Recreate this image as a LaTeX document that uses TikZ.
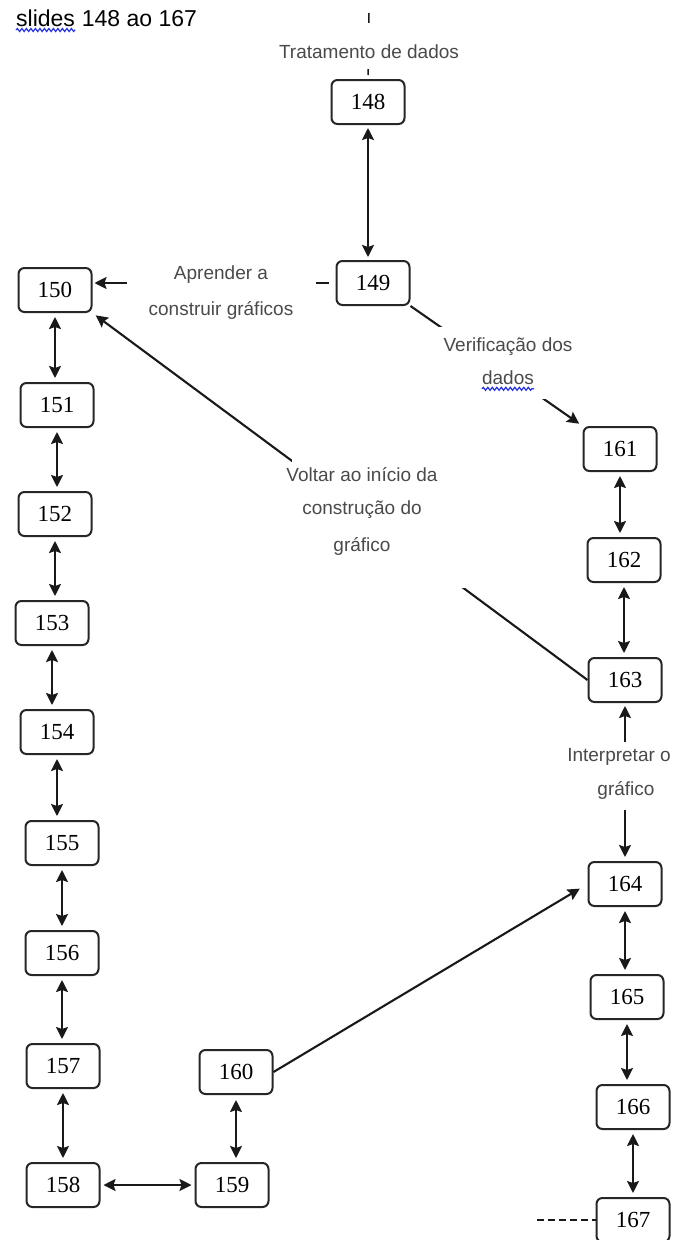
\documentclass[tikz,border=0pt]{standalone}
\usepackage{fontspec}
\setmainfont{Liberation Serif}
\newfontfamily\labfont{Liberation Sans}
\usetikzlibrary{arrows.meta,decorations.pathmorphing}
\definecolor{labgray}{HTML}{4A4A4A}
\definecolor{wavyblue}{HTML}{2430E0}
\begin{document}
\begin{tikzpicture}[x=1pt,y=-1pt,
  slide/.style={draw=black!85, line width=2pt, rounded corners=6pt,
    minimum width=73pt, minimum height=44pt, inner sep=0pt,
    font=\fontsize{23}{23}\selectfont},
  lab/.style={text=labgray, inner sep=0pt, font=\labfont\fontsize{19}{24}\selectfont},
  link/.style={line width=2.1pt, draw=black!90},
  tip/.style={-{Stealth[length=12pt,width=12pt,inset=2pt]}},
  both/.style={{Stealth[length=12pt,width=12pt,inset=2pt]}-{Stealth[length=12pt,width=12pt,inset=2pt]}},
  mask/.style={fill=white, draw=none},
  spell/.style={draw=wavyblue, line width=1.2pt, decorate,
    decoration={snake, amplitude=1.5pt, segment length=4.5pt}}
]
\useasboundingbox (0,0) rectangle (674,1240);

% ---- slide boxes ----
\node[slide] (n148) at (368,102) {148};
\node[slide] (n149) at (373,283) {149};
\node[slide] (n150) at (55,290) {150};
\node[slide] (n151) at (57,405) {151};
\node[slide] (n152) at (55,514) {152};
\node[slide] (n153) at (52,623) {153};
\node[slide] (n154) at (57,732) {154};
\node[slide] (n155) at (62,843) {155};
\node[slide] (n156) at (62,953) {156};
\node[slide] (n157) at (63,1066) {157};
\node[slide] (n158) at (63,1185) {158};
\node[slide] (n159) at (232,1185) {159};
\node[slide] (n160) at (236,1072) {160};
\node[slide] (n161) at (620,449) {161};
\node[slide] (n162) at (624,560) {162};
\node[slide] (n163) at (625,680) {163};
\node[slide] (n164) at (625,884) {164};
\node[slide] (n165) at (627,997) {165};
\node[slide] (n166) at (633,1107) {166};
\node[slide] (n167) at (633,1220) {167};

\coordinate (top) at (369,13);
\coordinate (d167) at (537,1220);

% ---- connectors ----
\draw[link, line width=1.5pt, shorten >=4pt] (top) -- (n148.north);
\draw[link, both, shorten <=3pt, shorten >=3pt] (n148.south) -- (n148.south |- n149.north);
\draw[link, tip, shorten <=7pt, shorten >=2pt] (n149.west) -- (n149.west -| n150.east);
\draw[link, tip, shorten >=4pt] (n149.south east) -- (n161.north west);
\draw[link, tip, shorten >=4pt] (n163.west) -- (n150.south east);
\draw[link, both, shorten <=3pt, shorten >=4pt] (n163.south) -- (n163.south |- n164.north);
\draw[link, tip, shorten >=9pt] (n160.east) -- (n164.west);

\foreach \a/\b in {150/151,151/152,152/153,153/154,154/155,155/156,156/157,157/158,
                   161/162,162/163,164/165,165/166,166/167}
  \draw[link, both, shorten <=4pt, shorten >=4pt] (n\a.south) -- (n\a.south |- n\b.north);
\draw[link, both, shorten <=5pt, shorten >=4pt] (n160.south) -- (n160.south |- n159.north);
\draw[link, both, shorten <=3pt, shorten >=3pt] (n158.east) -- (n159.west);
\draw[link, line width=1.4pt, dash pattern=on 7pt off 4pt] (d167) -- (d167 -| n167.west);

% ---- clear space behind the labels ----
\fill[mask] (260,23) rectangle (480,69);
\fill[mask] (127,272) rectangle (316,296);
\fill[mask] (430,327) rectangle (590,399);
\fill[mask] (292,440) rectangle (467,588);
\fill[mask] (560,742) rectangle (674,810);

% ---- labels ----
\node[lab] (tr) at (369,52) {Tratamento de dados};
\node[lab] (ap1) at (221,275) {Aprender a};
\node[lab] (ap2) at (221,310) {construir gráficos};
\node[lab] (ve1) at (508,347) {Verificação dos};
\node[lab] (ve2) at (508,378) {dados};
\node[lab] (vo1) at (362,475) {Voltar ao início da};
\node[lab] (vo2) at (362,510) {construção do};
\node[lab] (vo3) at (362,546) {gráfico};
\node[lab] (in1) at (619,757) {Interpretar o};
\node[lab] (in2) at (626,790) {gráfico};

% ---- heading ----
\node[inner sep=0pt, anchor=base west, font=\labfont\fontsize{23}{26}\selectfont] (t1) at (16,26) {slides};
\node[inner sep=0pt, anchor=base west, font=\labfont\fontsize{23}{26}\selectfont] (t2) at ([xshift=6.4pt]t1.base east) {148 ao 167};

% ---- spelling marks ----
\draw[spell] ([yshift=-4pt]t1.base west) -- ([yshift=-4pt]t1.base east);
\draw[spell] ([yshift=-4pt]ve2.base west) -- ([yshift=-4pt]ve2.base east);
\end{tikzpicture}
\end{document}
